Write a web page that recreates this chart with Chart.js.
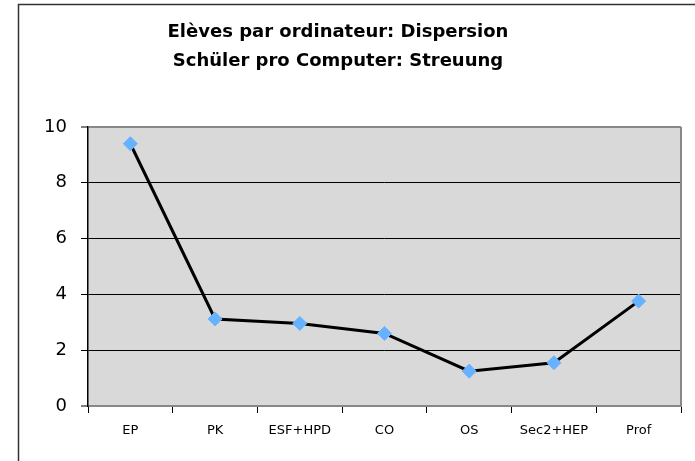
<!DOCTYPE html>
<html>
<head>
<meta charset="utf-8">
<script src="https://cdn.jsdelivr.net/npm/chart.js@4"></script>
<style>
  html, body { margin: 0; padding: 0; background: #fff; }
  #wrap { width: 695px; height: 461px; }
</style>
</head>
<body>
<div id="wrap"><canvas id="chart" width="695" height="461"></canvas></div>
<script>
// chart data
const categories = ['EP', 'PK', 'ESF+HPD', 'CO', 'OS', 'Sec2+HEP', 'Prof'];
const ratios = [9.4, 3.12, 2.96, 2.6, 1.25, 1.55, 3.76];
const yTicks = [0, 2, 4, 6, 8, 10];
const titleLines = ['Elèves par ordinateur: Dispersion', 'Schüler pro Computer: Streuung'];

const FONT = '"DejaVu Sans", Verdana, sans-serif';

// outer frame, grey plot background and the title
const framePlugin = {
  id: 'frame',
  beforeDraw(chart) {
    const { ctx, chartArea: a } = chart;
    ctx.save();
    ctx.fillStyle = '#fff';
    ctx.fillRect(0, 0, chart.width, chart.height);
    ctx.strokeStyle = '#333';
    ctx.lineWidth = 1.5;
    ctx.strokeRect(18.5, 4.5, chart.width + 20, chart.height + 20);
    ctx.fillStyle = '#d9d9d9';
    ctx.fillRect(a.left, a.top, a.right - a.left, a.bottom - a.top);
    ctx.restore();
  },
  afterDraw(chart) {
    const { ctx, chartArea: a } = chart;
    ctx.save();
    // right border of plot
    ctx.strokeStyle = '#888';
    ctx.lineWidth = 2;
    ctx.beginPath();
    ctx.moveTo(a.right, a.top);
    ctx.lineTo(a.right, a.bottom);
    ctx.stroke();
    // title
    ctx.fillStyle = '#000';
    ctx.font = 'bold 18px ' + FONT;
    ctx.textAlign = 'center';
    ctx.textBaseline = 'middle';
    ctx.fillText(titleLines[0], 338, 32);
    ctx.fillText(titleLines[1], 338, 61);
    ctx.restore();
  }
};

new Chart(document.getElementById('chart'), {
  type: 'line',
  data: {
    labels: categories,
    datasets: [{
      data: ratios,
      borderColor: '#000',
      borderWidth: 3,
      tension: 0,
      pointStyle: 'rectRot',
      pointRadius: 7,
      pointBackgroundColor: '#66b2ff',
      pointBorderColor: '#66b2ff',
      pointBorderWidth: 1
    }]
  },
  options: {
    responsive: false,
    animation: false,
    layout: { padding: { top: 127, right: 14, left: 0, bottom: 0 } },
    plugins: {
      legend: { display: false },
      tooltip: { enabled: false },
      title: { display: false }
    },
    scales: {
      x: {
        offset: true,
        grid: {
          offset: true,
          drawOnChartArea: false,
          drawTicks: true,
          tickLength: 7,
          color: '#000'
        },
        border: { display: true, color: '#888', width: 2 },
        ticks: {
          color: '#000',
          padding: 10,
          maxRotation: 0,
          font: { family: FONT, size: 13 }
        },
        afterFit(scale) { scale.height = 55; }
      },
      y: {
        min: 0,
        max: 10,
        afterBuildTicks(scale) { scale.ticks = yTicks.map(v => ({ value: v })); },
        grid: {
          color: ctx => (ctx.tick && (ctx.tick.value === 10 || ctx.tick.value === 0)) ? '#888' : '#000',
          lineWidth: ctx => (ctx.tick && (ctx.tick.value === 10 || ctx.tick.value === 0)) ? 2 : 1,
          tickColor: '#000',
          tickWidth: 1,
          tickLength: 7
        },
        border: { display: true, color: '#000', width: 1.5 },
        ticks: {
          color: '#000',
          padding: 14,
          font: { family: FONT, size: 18 }
        },
        afterFit(scale) { scale.width = 88; }
      }
    }
  },
  plugins: [framePlugin]
});
</script>
</body>
</html>
